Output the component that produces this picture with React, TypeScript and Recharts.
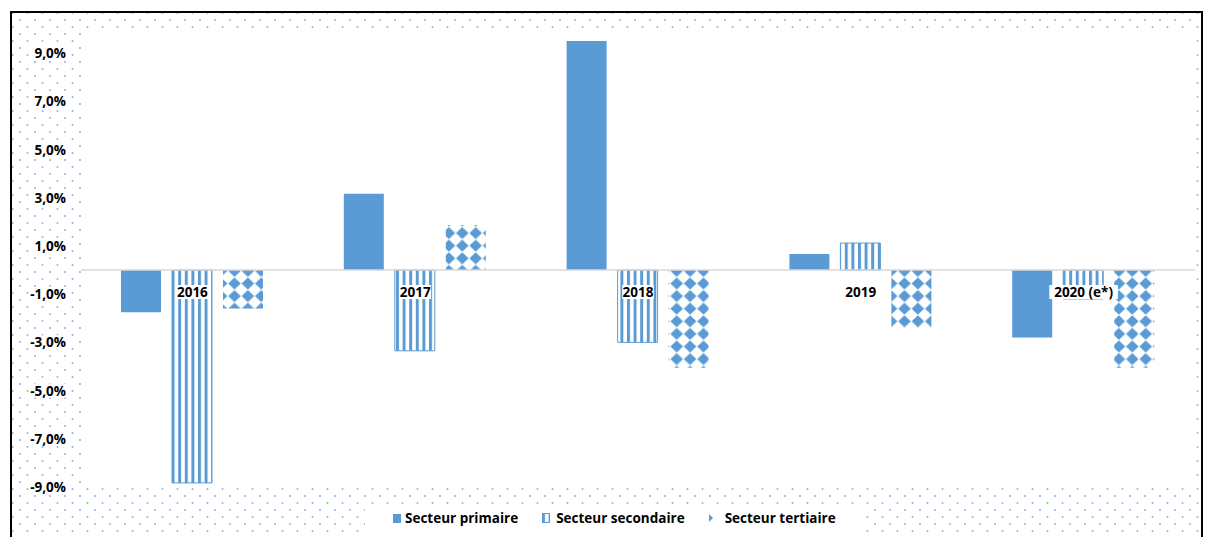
import React from "react";
import { BarChart, Bar, XAxis, YAxis, CartesianGrid, ReferenceLine, Legend } from "recharts";

// growth by sector, in %
const YEARS = ["2016", "2017", "2018", "2019", "2020 (e*)"];
const PRIMAIRE = [-1.75, 3.17, 9.5, 0.67, -2.8];
const SECONDAIRE = [-8.83, -3.35, -3.0, 1.12, -1.2];
const TERTIAIRE = [-1.6, 1.87, -4.05, -2.4, -4.05];
const Y_TICKS = [-9, -7, -5, -3, -1, 1, 3, 5, 7, 9];
const Y_MIN = -9;
const Y_MAX = 10;

const BLUE = "#5B9BD5";
const FONT = "'Open Sans', sans-serif";

const W = 1205;
const H = 537;
const PLOT_TOP = 29;
const PLOT_BOTTOM = 487;
const ZERO_Y = PLOT_TOP + ((PLOT_BOTTOM - PLOT_TOP) * Y_MAX) / (Y_MAX - Y_MIN);

const data = YEARS.map((year, i) => ({
  year,
  primaire: PRIMAIRE[i],
  secondaire: SECONDAIRE[i],
  tertiaire: TERTIAIRE[i],
}));

const fmt = (v: number) => `${v.toFixed(1).replace(".", ",")}%`;

const YTick = ({ x, y, payload }: any) => {
  const label = fmt(payload.value);
  return (
    <g>
      <rect x={x - 37} y={y - 7} width={39} height={14} fill="#fff" />
      <text x={x} y={y} dy={5} textAnchor="end" fontFamily={FONT} fontWeight={700} fontSize={13.5} fill="#000">
        {label}
      </text>
    </g>
  );
};

const XTick = ({ x, payload }: any) => {
  const w = payload.value.length * 7.4 + 2;
  return (
    <g>
      <rect x={x - w / 2} y={ZERO_Y + 15} width={w} height={14} fill="#fff" />
      <text x={x} y={ZERO_Y + 27} textAnchor="middle" fontFamily={FONT} fontWeight={700} fontSize={13.5} fill="#000">
        {payload.value}
      </text>
    </g>
  );
};

const LegendContent = () => {
  const item = (icon: React.ReactNode, label: string, gap: number, last = false) => (
    <div style={{ display: "flex", alignItems: "center", marginRight: last ? 0 : 24 }}>
      {icon}
      <span style={{ marginLeft: gap }}>{label}</span>
    </div>
  );
  return (
    <div
      style={{
        display: "flex",
        alignItems: "center",
        height: 28,
        background: "#fff",
        paddingLeft: 28,
        fontFamily: FONT,
        fontWeight: 700,
        fontSize: 13.5,
        color: "#000",
        boxSizing: "border-box",
      }}
    >
      {item(
        <svg width={8} height={9}>
          <rect width={8} height={9} fill={BLUE} />
        </svg>,
        "Secteur primaire",
        4
      )}
      {item(
        <svg width={8} height={10}>
          <rect x={0.5} y={0.5} width={7} height={9} fill="url(#stripes)" stroke={BLUE} />
        </svg>,
        "Secteur secondaire",
        6
      )}
      {item(
        <svg width={8} height={10}>
          <rect x={0} y={0} width={6} height={10} fill="url(#diamondsLegend)" />
        </svg>,
        "Secteur tertiaire",
        8,
        true
      )}
    </div>
  );
};

export default function App() {
  return (
    <div style={{ position: "absolute", left: 0, top: 0, width: W, height: H, background: "#fff" }}>
      <svg width={W} height={H} style={{ position: "absolute", left: 0, top: 0 }}>
        <defs>
          <pattern id="dots" patternUnits="userSpaceOnUse" width={15} height={14}>
            <circle cx={5} cy={6} r={1} fill="#8DB4E2" />
            <circle cx={12.5} cy={13} r={1} fill="#8DB4E2" />
          </pattern>
          <pattern id="stripes" patternUnits="userSpaceOnUse" width={6.6} height={10}>
            <rect x={0} y={0} width={3.2} height={10} fill={BLUE} />
            <rect x={3.2} y={0} width={3.4} height={10} fill="#fff" />
          </pattern>
          <pattern id="diamonds" patternUnits="userSpaceOnUse" width={13.4} height={12.6}>
            <rect width={13.4} height={12.6} fill="#fff" />
            <polygon points="6.7,0.3 13,6.3 6.7,12.3 0.4,6.3" fill={BLUE} />
          </pattern>
          <pattern id="diamondsLegend" patternUnits="userSpaceOnUse" width={8} height={10}>
            <rect width={8} height={10} fill="#fff" />
            <polygon points="0,1 4,5 0,9" fill={BLUE} />
          </pattern>
        </defs>
        <rect x={11} y={12} width={1191} height={530} fill="url(#dots)" stroke="#000" strokeWidth={2} />
      </svg>
      <div style={{ position: "absolute", left: 0, top: 0 }}>
        <BarChart
          width={W}
          height={H}
          data={data}
          margin={{ top: PLOT_TOP, right: 10, bottom: H - PLOT_BOTTOM - 1, left: 21 }}
          barSize={40}
          barGap={11}
        >
          <CartesianGrid horizontal={false} vertical={false} fill="#fff" stroke="none" />
          <YAxis
            width={60}
            domain={[Y_MIN, Y_MAX]}
            ticks={Y_TICKS}
            axisLine={false}
            tickLine={false}
            tickSize={0}
            tickMargin={15}
            interval={0}
            tick={<YTick />}
          />
          <ReferenceLine y={0} stroke="#D9D9D9" strokeWidth={1.5} />
          <Bar dataKey="primaire" name="Secteur primaire" fill={BLUE} isAnimationActive={false} />
          <Bar
            dataKey="secondaire"
            name="Secteur secondaire"
            fill="url(#stripes)"
            stroke={BLUE}
            strokeWidth={1}
            isAnimationActive={false}
          />
          <Bar dataKey="tertiaire" name="Secteur tertiaire" fill="url(#diamonds)" isAnimationActive={false} />
          <XAxis dataKey="year" height={1} axisLine={false} tickLine={false} interval={0} tick={<XTick />} />
          <Legend
            layout="horizontal"
            verticalAlign="middle"
            align="center"
            content={<LegendContent />}
            wrapperStyle={{ left: 365, top: 504, width: 500, height: 28 }}
          />
        </BarChart>
      </div>
    </div>
  );
}
